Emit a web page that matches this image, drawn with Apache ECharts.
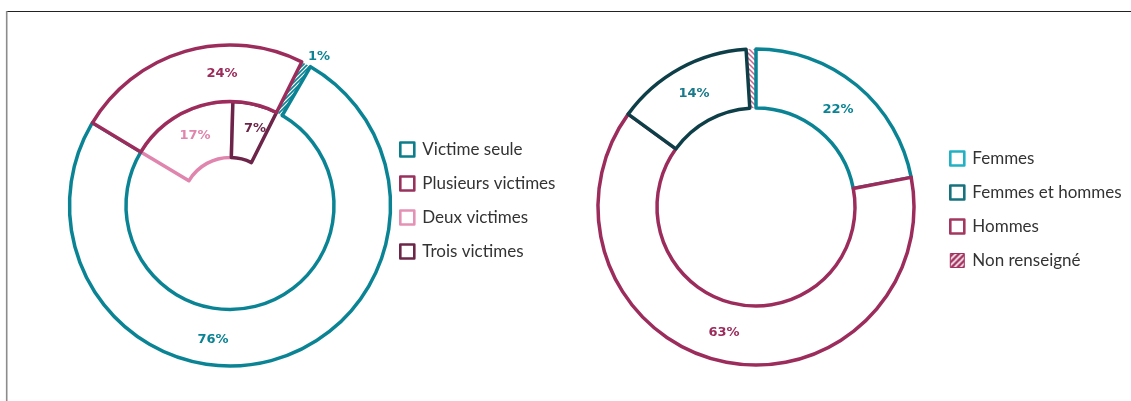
<!DOCTYPE html>
<html>
<head>
<meta charset="utf-8">
<script src="https://cdn.jsdelivr.net/npm/echarts@6/dist/echarts.min.js"></script>
<style>
  html, body { margin: 0; padding: 0; background: #fff; }
  #chart { width: 1131px; height: 401px; }
</style>
</head>
<body>
<div id="chart"></div>
<script>
// Nombre de victimes (anneau extérieur) et détail des cas à plusieurs victimes
const victimNames = ['Victime seule', 'Plusieurs victimes', 'Non renseigné'];
const victimValues = [76, 24, 1];
const multiNames = ['Deux victimes', 'Trois victimes'];
const multiValues = [17, 7];

// Sexe des victimes
const sexNames = ['Femmes', 'Hommes', 'Femmes et hommes', 'Non renseigné'];
const sexValues = [22, 63, 14, 1];

const C = {
  teal: '#0a8494',
  crimson: '#9c2c5b',
  pink: '#e085ad',
  plum: '#6c2449',
  darkTeal: '#0e3f49',
  text: '#333333'
};
const SW = 3.5; // épaisseur des contours

function stripes(fg, bg, size, width, dir) {
  const c = document.createElement('canvas');
  c.width = c.height = size;
  const g = c.getContext('2d');
  g.fillStyle = bg;
  g.fillRect(0, 0, size, size);
  g.strokeStyle = fg;
  g.lineWidth = width;
  g.beginPath();
  if (dir > 0) {
    g.moveTo(-1, size + 1); g.lineTo(size + 1, -1);
    g.moveTo(-1, 1); g.lineTo(1, -1);
    g.moveTo(size - 1, size + 1); g.lineTo(size + 1, size - 1);
  } else {
    g.moveTo(-1, -1); g.lineTo(size + 1, size + 1);
    g.moveTo(size - 1, -1); g.lineTo(size + 1, 1);
    g.moveTo(-1, size - 1); g.lineTo(1, size + 1);
  }
  g.stroke();
  return { image: c, repeat: 'repeat' };
}

const hatchTeal = stripes(C.teal, '#ffffff', 4, 1.6, 1);
const hatchRose = stripes('#c9668e', '#ffffff', 5, 1.5, -1);
const hatchLegend = stripes('#ffffff', '#a3305f', 6, 1.6, 1);

const sum = a => a.reduce((s, v) => s + v, 0);
const LBL = { fontFamily: 'DejaVu Sans', fontWeight: 'bold', fontSize: 13 };

function labelAt(pos) {
  return function (p) {
    const q = pos[p.dataIndex];
    if (!q) return {};
    return { x: q[0], y: q[1], align: 'center', verticalAlign: 'middle' };
  };
}

const hidden = { color: 'rgba(0,0,0,0)', borderWidth: 0 };
const base = {
  type: 'pie',
  silent: true,
  avoidLabelOverlap: false,
  labelLine: { show: false },
  emphasis: { disabled: true },
  animation: false
};

// ---- Graphique de gauche ----
const leftCenter = [230, 205.5];
const leftColors = [C.teal, C.crimson, null];
const leftLabelColors = [C.teal, C.crimson, C.teal];
// départ de l'anneau : fin du secteur « Victime seule » juste à gauche du sommet
const leftStart = 90 + 59 + victimValues[0] / sum(victimValues) * 360;
const leftInnerColors = [C.pink, C.plum];

const series = [
  // détail des cas à plusieurs victimes (anneau intérieur)
  Object.assign({}, base, {
    center: leftCenter,
    radius: [48, 104],
    startAngle: 90 + 59,
    z: 1,
    label: Object.assign({ show: true, position: 'inside', formatter: '{c}%' }, LBL),
    labelLayout: labelAt([[195, 136], [255, 129]]),
    data: multiValues.map((v, i) => ({
      name: multiNames[i], value: v,
      itemStyle: { color: '#fff', borderColor: leftInnerColors[i], borderWidth: SW, borderJoin: 'round' },
      label: { color: leftInnerColors[i] }
    })).concat([{
      name: '', value: sum(victimValues) - sum(multiValues),
      itemStyle: hidden, label: { show: false }
    }])
  }),
  // hachures « Non renseigné »
  Object.assign({}, base, {
    center: leftCenter,
    radius: [104, 160.5],
    startAngle: leftStart,
    z: 1,
    label: { show: false },
    data: victimValues.map((v, i) => ({
      name: victimNames[i], value: v,
      itemStyle: i === 2 ? { color: hatchTeal, borderWidth: 0 } : hidden
    }))
  }),
  // anneau extérieur
  Object.assign({}, base, {
    center: leftCenter,
    radius: [104, 160.5],
    startAngle: leftStart,
    z: 2,
    label: Object.assign({ show: true, position: 'inside', formatter: '{c}%' }, LBL),
    labelLayout: labelAt([[213, 340], [222, 74], [319, 57]]),
    data: victimValues.map((v, i) => ({
      name: victimNames[i], value: v,
      itemStyle: i === 2 ? hidden
        : { color: '#fff', borderColor: leftColors[i], borderWidth: SW, borderJoin: 'round' },
      label: { color: leftLabelColors[i] }
    }))
  })
];

// ---- Graphique de droite ----
const rightCenter = [756, 207];
const rightColors = [C.teal, C.crimson, C.darkTeal, null];
const rightLabelColors = [C.teal, C.crimson, '#19798a', null];

series.push(
  Object.assign({}, base, {
    center: rightCenter,
    radius: [99, 158],
    startAngle: 90,
    z: 1,
    label: { show: false },
    data: sexValues.map((v, i) => ({
      name: sexNames[i], value: v,
      itemStyle: i === 3 ? { color: hatchRose, borderWidth: 0 } : hidden
    }))
  }),
  Object.assign({}, base, {
    center: rightCenter,
    radius: [99, 158],
    startAngle: 90,
    z: 2,
    label: Object.assign({ show: true, position: 'inside', formatter: '{c}%' }, LBL),
    labelLayout: labelAt([[838, 110], [724, 333], [694, 94]]),
    data: sexValues.map((v, i) => ({
      name: sexNames[i], value: v,
      itemStyle: i === 3 ? hidden
        : { color: '#fff', borderColor: rightColors[i], borderWidth: SW, borderJoin: 'round' },
      label: i === 3 ? { show: false } : { color: rightLabelColors[i] }
    }))
  })
);

const legendText = { fontFamily: 'Lato', fontSize: 17, color: C.text, padding: [0, 0, 0, 3] };
function box(color) {
  return { color: '#fff', borderColor: color, borderWidth: 2.6 };
}

const option = {
  animation: false,
  backgroundColor: '#fff',
  legend: [
    {
      orient: 'vertical', left: 399, top: 141, padding: 0,
      itemWidth: 14, itemHeight: 14, itemGap: 17,
      selectedMode: false, icon: 'rect',
      textStyle: legendText,
      data: [
        { name: 'Victime seule', itemStyle: box('#0b7d8b') },
        { name: 'Plusieurs victimes', itemStyle: box('#98325d') },
        { name: 'Deux victimes', itemStyle: box('#e591b6') },
        { name: 'Trois victimes', itemStyle: box('#6b2648') }
      ]
    },
    {
      orient: 'vertical', left: 949, top: 150, padding: 0,
      itemWidth: 14, itemHeight: 14, itemGap: 17,
      selectedMode: false, icon: 'rect',
      textStyle: legendText,
      data: [
        { name: 'Femmes', itemStyle: box('#22b1c4') },
        { name: 'Femmes et hommes', itemStyle: box('#17727d') },
        { name: 'Hommes', itemStyle: box('#a3375f') },
        { name: 'Non renseigné', itemStyle: { color: hatchLegend, borderColor: '#a3305f', borderWidth: 1 } }
      ]
    }
  ],
  graphic: [
    { type: 'line', shape: { x1: 6, y1: 11.5, x2: 1131, y2: 11.5 }, style: { stroke: '#222', lineWidth: 1.2 }, silent: true },
    { type: 'line', shape: { x1: 6.7, y1: 11, x2: 6.7, y2: 401 }, style: { stroke: '#8c8c8c', lineWidth: 1.6 }, silent: true }
  ],
  series: series
};

const chart = echarts.init(document.getElementById('chart'), null, { renderer: 'canvas' });
chart.setOption(option);
</script>
</body>
</html>
